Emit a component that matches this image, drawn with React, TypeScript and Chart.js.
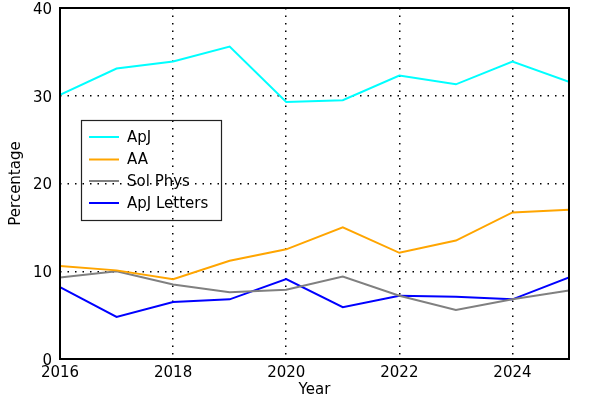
import React, { useEffect, useRef } from "react";
import { Chart, registerables } from "chart.js";

Chart.register(...registerables);

const years = [2016, 2017, 2018, 2019, 2020, 2021, 2022, 2023, 2024, 2025];
const apj = [30.1, 33.1, 33.9, 35.6, 29.3, 29.5, 32.3, 31.3, 33.9, 31.6];
const aa = [10.6, 10.1, 9.1, 11.2, 12.5, 15.0, 12.1, 13.5, 16.7, 17.0];
const solPhys = [9.3, 10.0, 8.5, 7.6, 7.9, 9.4, 7.2, 5.6, 6.8, 7.8];
const apjLetters = [8.2, 4.8, 6.5, 6.8, 9.1, 5.9, 7.2, 7.1, 6.8, 9.3];

const seriesLabels = ["ApJ", "AA", "Sol Phys", "ApJ Letters"];
const seriesColors = ["#00ffff", "#ffa500", "#808080", "#0000ff"];
const seriesValues = [apj, aa, solPhys, apjLetters];

const xTicks = [2016, 2018, 2020, 2022, 2024];
const yTicks = [0, 10, 20, 30, 40];
const xMin = 2016;
const xMax = 2025;
const yMin = 0;
const yMax = 40;

const FONT = "'DejaVu Sans', sans-serif";

const frameAndLegend = {
  id: "frameAndLegend",
  afterDatasetsDraw(chart: any) {
    const { ctx, chartArea } = chart;
    ctx.save();
    ctx.strokeStyle = "#000";
    ctx.lineWidth = 2;
    ctx.strokeRect(chartArea.left, chartArea.top, chartArea.right - chartArea.left, chartArea.bottom - chartArea.top);

    // legend
    const lx = 81.5, ly = 120.5, lw = 140, lh = 100;
    ctx.lineWidth = 1.2;
    ctx.strokeStyle = "#222";
    ctx.strokeRect(lx, ly, lw, lh);
    ctx.font = `15px ${FONT}`;
    ctx.textBaseline = "middle";
    ctx.textAlign = "left";
    const rows = [137, 159.5, 181, 203];
    chart.data.datasets.forEach((ds: any, i: number) => {
      const y = rows[i];
      ctx.strokeStyle = ds.borderColor;
      ctx.lineWidth = 2;
      ctx.beginPath();
      ctx.moveTo(89, y);
      ctx.lineTo(119, y);
      ctx.stroke();
      ctx.fillStyle = "#000";
      ctx.fillText(ds.label, 127, y + 1);
    });
    ctx.restore();
  },
};

export default function App() {
  const ref = useRef<HTMLCanvasElement | null>(null);
  useEffect(() => {
    if (!ref.current) return;
    const gridColor = (inner: number[]) => (c: any) =>
      c.tick && inner.includes(c.tick.value) ? "#000" : "rgba(0,0,0,0)";
    const chart = new Chart(ref.current, {
      type: "line",
      data: {
        datasets: seriesValues.map((vals, i) => ({
          label: seriesLabels[i],
          data: years.map((y, j) => ({ x: y, y: vals[j] })),
          borderColor: seriesColors[i],
          backgroundColor: seriesColors[i],
          borderWidth: 2,
          pointRadius: 0,
          tension: 0,
          fill: false,
        })),
      },
      options: {
        animation: false,
        responsive: false,
        devicePixelRatio: 1,
        layout: { padding: { left: 0, top: 8, right: 31, bottom: 0 } },
        plugins: { legend: { display: false }, tooltip: { enabled: false } },
        scales: {
          x: {
            type: "linear",
            min: xMin,
            max: xMax,
            afterBuildTicks: (s: any) => {
              s.ticks = xTicks.map((v) => ({ value: v }));
            },
            afterFit: (s: any) => {
              s.height = 41;
              s.paddingLeft = 0;
              s.paddingRight = 0;
            },
            grid: {
              color: gridColor([2018, 2020, 2022, 2024]),
              lineWidth: 1.5,
              drawTicks: false,
            },
            border: { display: false, dash: [1.5, 6] },
            ticks: {
              padding: 5,
              color: "#000",
              font: { family: FONT, size: 15 },
              callback: (v: any) => String(v),
              maxRotation: 0,
            },
            title: {
              display: true,
              text: "Year",
              color: "#000",
              font: { family: FONT, size: 15 },
              padding: { top: 0, bottom: 1 },
            },
          },
          y: {
            type: "linear",
            min: yMin,
            max: yMax,
            afterBuildTicks: (s: any) => {
              s.ticks = yTicks.map((v) => ({ value: v }));
            },
            afterFit: (s: any) => {
              s.width = 60;
              s.paddingTop = 0;
              s.paddingBottom = 0;
            },
            grid: {
              color: gridColor([10, 20, 30]),
              lineWidth: 1.5,
              drawTicks: false,
            },
            border: { display: false, dash: [1.5, 6] },
            ticks: {
              padding: 8,
              labelOffset: 2,
              color: "#000",
              font: { family: FONT, size: 15 },
            },
            title: {
              display: true,
              text: "Percentage",
              color: "#000",
              font: { family: FONT, size: 15 },
              padding: { top: 7.5, bottom: 0 },
            },
          },
        },
      },
      plugins: [frameAndLegend],
    });
    return () => chart.destroy();
  }, []);
  return (
    <div style={{ position: "fixed", left: 0, top: 0, width: 600, height: 400, background: "#fff" }}>
      <canvas ref={ref} width={600} height={400} style={{ width: 600, height: 400, display: "block" }} />
    </div>
  );
}
